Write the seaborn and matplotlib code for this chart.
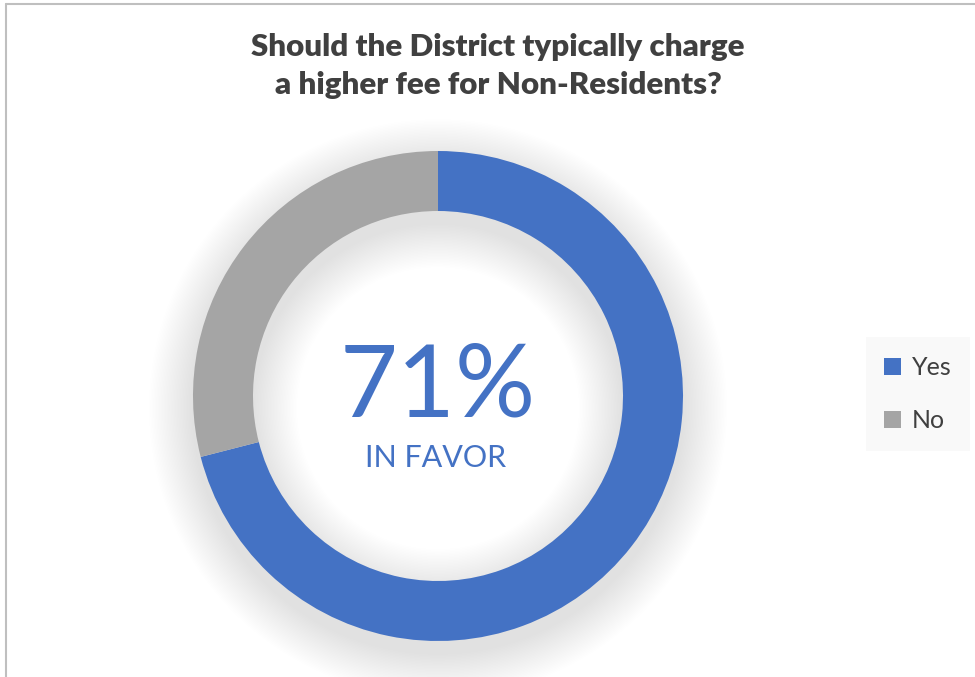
import matplotlib
matplotlib.use("Agg")
import matplotlib.pyplot as plt
import seaborn as sns
from matplotlib.patches import Wedge, Patch
from matplotlib.lines import Line2D

categories = ["Yes", "No"]
values = [71, 29]
title_text = "Should the District typically charge\na higher fee for Non-Residents?"
center_big = "71%"
center_small = "IN FAVOR"

sns.set_theme(style="white")
plt.rcParams["font.family"] = ["Lato", "DejaVu Sans"]

colors = ["#4472C4", "#A5A5A5"]

W, H = 975, 677
fig = plt.figure(figsize=(W / 100, H / 100), dpi=100)
fig.patch.set_facecolor("white")

# outer frame (top and left gray lines)
fig.add_artist(Line2D([6 / W, 6 / W], [0, 1 - 4 / H], color="#BFBFBF", lw=1.5))
fig.add_artist(Line2D([6 / W, 1], [1 - 4 / H, 1 - 4 / H], color="#BFBFBF", lw=1.5))

cx, cy, R = 438, 396, 245
ax = fig.add_axes([(cx - R) / W, (H - cy - R) / H, 2 * R / W, 2 * R / H])
ax.set_axis_off()

ring_w = 60 / 245

# soft shadow
n = 30
for k in range(n):
    d = 0.18 * (k + 1) / n
    sh = Wedge((0, -0.05), 1 + d, 0, 360, width=ring_w + 2 * d,
               facecolor="black", edgecolor="none", alpha=0.0045, zorder=0,
               clip_on=False)
    ax.add_patch(sh)

ax.pie(values, colors=colors, startangle=90, counterclock=False,
       radius=1, wedgeprops=dict(width=ring_w, edgecolor="none", linewidth=0))
ax.set_xlim(-1, 1)
ax.set_ylim(-1, 1)
ax.set_aspect("equal")

fig.text(cx / W, 1 - 388 / H, center_big, ha="center", va="center",
         fontsize=72, color="#4472C4")
fig.text(436 / W, 1 - 458 / H, center_small, ha="center", va="center",
         fontsize=22, color="#4472C4")

fig.text(498 / W, 1 - 66 / H, title_text, ha="center", va="center",
         fontsize=22.5, fontweight="heavy", color="#404040", linespacing=1.45)

handles = [Patch(facecolor=c, edgecolor="none") for c in colors]
leg = fig.legend(handles, categories, loc="center", bbox_to_anchor=(918 / W, 1 - 394 / H),
                 frameon=True, facecolor="#F9F9F9", edgecolor="none", fancybox=False,
                 fontsize=18, handlelength=0.65, handleheight=0.65, handletextpad=0.45,
                 labelspacing=1.2, borderpad=0.75)
leg.get_frame().set_alpha(None)
for t in leg.get_texts():
    t.set_color("#404040")

fig.savefig("out.png", dpi=100, facecolor="white")
